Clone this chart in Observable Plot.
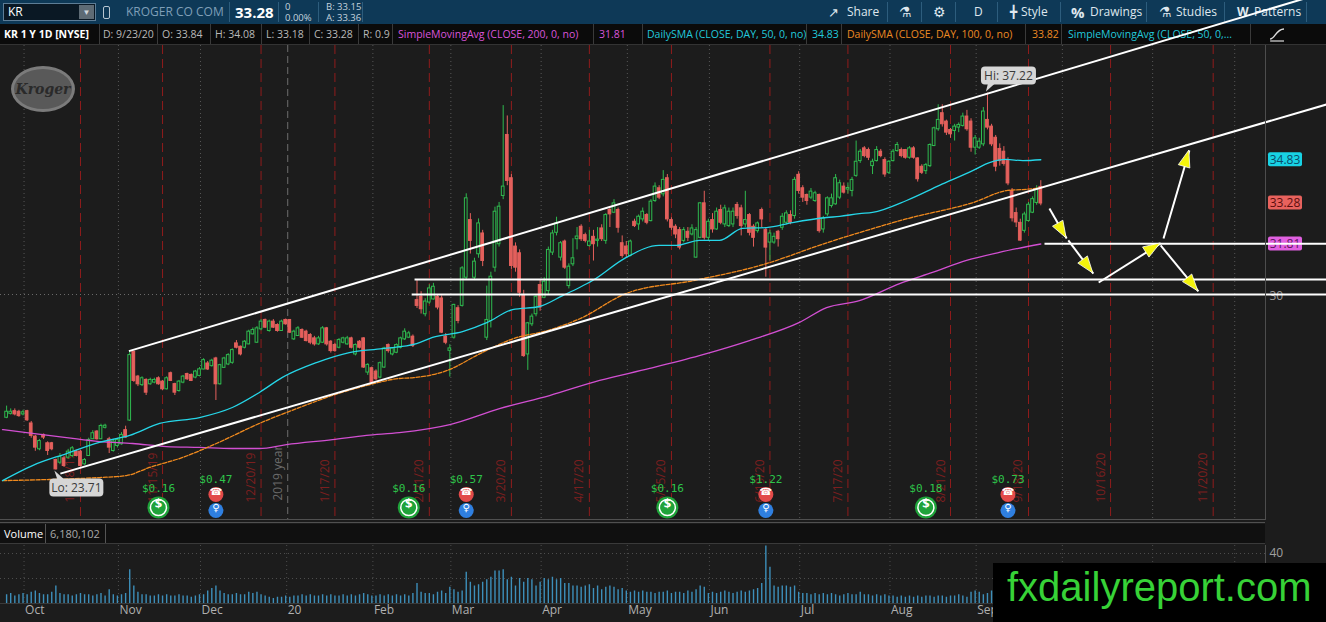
<!DOCTYPE html>
<html>
<head>
<meta charset="utf-8">
<script src="https://cdn.jsdelivr.net/npm/d3@7"></script>
<script src="https://cdn.jsdelivr.net/npm/@observablehq/plot@0.6"></script>
<style>
  html, body { margin:0; padding:0; background:#1c1c1c; overflow:hidden; }
  #page { position:relative; width:1326px; height:622px; overflow:hidden; font-family:"Open Sans","Noto Sans",sans-serif; background:#1c1c1c; }
  .a { position:absolute; white-space:nowrap; }
  #toolbar { left:0; top:0; width:1326px; height:24px; background:#0e3957; }
  .tb { position:absolute; top:0; height:24px; line-height:24px; font-size:12px; color:#dfe7ee; white-space:nowrap; }
  .tsep { position:absolute; top:2px; width:1px; height:20px; background:#2d5d7d; }
  #studybar { left:0; top:24px; width:1326px; height:21px; background:#0b0b0b; border-bottom:1px solid #333; box-sizing:border-box; }
  .sb { position:absolute; top:0; height:20px; line-height:20px; font-size:10.5px; color:#b9b9b9; white-space:nowrap; }
  .ssep { position:absolute; top:0; width:1px; height:20px; background:#3a3a3a; }
  #main { left:0; top:45px; z-index:2; }
  #logo { left:11px; top:66px; width:58px; height:40px; border-radius:50%; background:#595959; border:3px solid #7b7b7b; z-index:3;
          color:#2a2a2a; font-weight:700; font-style:italic; font-size:14px; line-height:40px; text-align:center; font-family:"DejaVu Serif",serif; }
  #sep1 { left:0; top:519px; width:1265px; height:4px; border-top:1px solid #505050; border-bottom:1px solid #505050; box-sizing:border-box; z-index:3; }
  #volhdr { left:0; top:524px; width:1265px; height:20px; background:#101010; border-bottom:1px solid #3a3a3a; box-sizing:border-box; z-index:3; }
  #vol { left:0; top:545px; z-index:2; }
  #wmbox { left:993px; top:563px; width:333px; height:59px; background:#000; z-index:5; }
  #wmtxt { left:1007px; top:564px; font-family:"Liberation Sans",Arial,sans-serif; font-size:40px; line-height:46px; color:#37d237; z-index:6; }
</style>
</head>
<body>
<div id="page">
  <div id="toolbar" class="a">
    <div class="a" style="left:3px;top:3px;width:93px;height:18px;background:#0a1824;border:1px solid #5d7d96;box-sizing:border-box;"></div>
    <div class="tb" style="left:8px;color:#fff;">KR</div>
    <div class="a" style="left:79px;top:5px;width:15px;height:14px;background:#5e6b75;color:#cfd6dc;font-size:8px;line-height:14px;text-align:center;">&#9660;</div>
    <div class="a" style="left:103px;top:6px;width:5px;height:11px;border:1px solid #b8c6d1;border-radius:2px;"></div>
    <div class="tb" style="left:126px;color:#7f9fb7;">KROGER CO COM</div>
    <div class="tsep" style="left:229px"></div>
    <div class="tb" style="left:235px;font-size:15px;font-weight:700;color:#fff;">33.28</div>
    <div class="tsep" style="left:278px"></div>
    <div class="a" style="left:285px;top:1px;font-size:9.5px;line-height:11px;color:#c5d3de;">0<br>0.00%</div>
    <div class="tsep" style="left:318px"></div>
    <div class="a" style="left:326px;top:1px;font-size:9.5px;line-height:11px;color:#c5d3de;">B: 33.15<br>A: 33.36</div>
    <div class="tsep" style="left:362px"></div>
    <div class="tb" style="left:828px;font-size:13px;">&#8599;</div>
    <div class="tb" style="left:847px;">Share</div>
    <div class="tsep" style="left:887px"></div>
    <div class="tb" style="left:899px;font-size:14px;">&#9879;</div>
    <div class="tsep" style="left:921px"></div>
    <div class="tb" style="left:933px;font-size:14px;">&#9881;</div>
    <div class="tsep" style="left:955px"></div>
    <div class="tb" style="left:974px;">D</div>
    <div class="tsep" style="left:997px"></div>
    <div class="tb" style="left:1010px;font-size:12px;">&#9547;</div>
    <div class="tb" style="left:1021px;">Style</div>
    <div class="tsep" style="left:1060px"></div>
    <div class="tb" style="left:1071px;font-size:15px;font-weight:700;">%</div>
    <div class="tb" style="left:1090px;">Drawings</div>
    <div class="tsep" style="left:1146px"></div>
    <div class="tb" style="left:1159px;font-size:14px;">&#9879;</div>
    <div class="tb" style="left:1176px;">Studies</div>
    <div class="tsep" style="left:1224px"></div>
    <div class="tb" style="left:1237px;font-size:12px;font-weight:700;">W</div>
    <div class="tb" style="left:1254px;">Patterns</div>
    <div class="tsep" style="left:1306px"></div>
  </div>
  <div id="studybar" class="a">
    <div class="sb" style="left:4px;color:#fff;font-weight:700;">KR 1 Y 1D [NYSE]</div>
    <div class="ssep" style="left:99px"></div>
    <div class="sb" style="left:103px;">D: 9/23/20</div>
    <div class="ssep" style="left:157px"></div>
    <div class="sb" style="left:162px;">O: 33.84</div>
    <div class="ssep" style="left:210px"></div>
    <div class="sb" style="left:215px;">H: 34.08</div>
    <div class="ssep" style="left:261px"></div>
    <div class="sb" style="left:266px;">L: 33.18</div>
    <div class="ssep" style="left:309px"></div>
    <div class="sb" style="left:314px;">C: 33.28</div>
    <div class="ssep" style="left:358px"></div>
    <div class="sb" style="left:363px;">R: 0.9</div>
    <div class="ssep" style="left:392px"></div>
    <div class="sb" style="left:398px;color:#d955d9;">SimpleMovingAvg (CLOSE, 200, 0, no)</div>
    <div class="ssep" style="left:593px"></div>
    <div class="sb" style="left:599px;color:#d955d9;">31.81</div>
    <div class="ssep" style="left:642px"></div>
    <div class="sb" style="left:647px;color:#22c9dc;">DailySMA (CLOSE, DAY, 50, 0, no)</div>
    <div class="ssep" style="left:806px"></div>
    <div class="sb" style="left:812px;color:#22c9dc;">34.83</div>
    <div class="ssep" style="left:841px"></div>
    <div class="sb" style="left:847px;color:#ec8a24;">DailySMA (CLOSE, DAY, 100, 0, no)</div>
    <div class="ssep" style="left:1025px"></div>
    <div class="sb" style="left:1032px;color:#ec8a24;">33.82</div>
    <div class="ssep" style="left:1061px"></div>
    <div class="sb" style="left:1068px;color:#22c9dc;">SimpleMovingAvg (CLOSE, 50, 0,...</div>
    <div class="ssep" style="left:1250px"></div>
    <svg class="a" style="left:1268px;top:3px" width="18" height="15"><path d="M2,12 C7,12 8,2 16,2" fill="none" stroke="#ddd" stroke-width="1.4"/><path d="M2,14 H16" stroke="#ddd" stroke-width="1.2"/></svg>
  </div>
  <div id="main" class="a"></div>
  <div id="logo" class="a">Kroger</div>
  <div id="sep1" class="a"></div>
  <div id="volhdr" class="a">
    <div class="a" style="left:0;top:0;width:46px;height:19px;border-right:1px solid #555;box-sizing:border-box;color:#fff;font-size:11px;line-height:19px;padding-left:4px;">Volume</div>
    <div class="a" style="left:46px;top:0;width:60px;height:19px;border-right:1px solid #555;box-sizing:border-box;color:#a9a9a9;font-size:11px;line-height:19px;padding-left:4px;">6,180,102</div>
  </div>
  <div id="vol" class="a"></div>
  <div id="wmbox" class="a"></div>
  <div id="wmtxt" class="a">fxdailyreport.com</div>
</div>
<script>
// ===================== DATA =====================
const holidays = ["2019-11-28","2019-12-25","2020-01-01","2020-01-20","2020-02-17","2020-04-10","2020-05-25","2020-07-03","2020-09-07","2020-11-26"];
const firstCandle = "2019-09-24";

const opens = [
25.60,25.74,25.80,25.78,25.72,25.80,25.36,24.89,24.47,24.95,
24.65,24.65,24.05,23.99,24.11,24.17,24.23,24.35,24.35,23.93,
24.23,24.83,25.07,24.83,25.24,24.79,24.41,24.59,24.65,25.12,
25.50,27.93,27.04,26.77,26.92,26.80,26.86,26.98,26.86,26.62,
27.16,26.77,26.56,26.86,27.13,27.10,27.04,27.10,27.33,27.51,
27.45,27.69,26.80,27.39,27.51,27.57,28.23,28.11,28.11,28.23,
28.59,28.29,28.77,29.07,28.71,29.01,28.89,28.71,29.07,29.07,
28.41,28.53,28.71,28.65,28.53,28.41,28.23,28.29,28.77,28.29,
28.17,28.11,28.29,28.23,28.41,27.87,28.29,28.41,27.22,27.34,
27.22,27.04,27.40,28.17,27.87,27.93,28.11,28.41,28.47,28.47,
29.78,29.90,29.31,29.73,29.84,29.90,29.84,28.47,28.00,28.47,
29.49,29.61,30.62,32.65,30.62,31.46,32.17,28.47,29.07,30.98,
31.82,33.55,35.70,34.15,31.70,31.46,29.96,27.87,28.95,29.31,
30.32,29.90,30.14,31.52,32.23,31.34,31.88,30.32,31.10,32.00,
32.41,32.11,31.76,32.05,31.94,32.35,31.94,33.01,32.95,33.01,
31.82,31.70,31.40,32.59,32.53,32.71,32.83,32.65,33.37,33.79,
33.61,34.15,32.65,32.41,32.29,31.94,32.23,32.17,31.34,32.05,
33.25,32.05,32.65,32.35,33.01,32.53,32.47,32.53,33.19,33.07,
32.53,32.83,32.41,32.29,33.01,32.29,31.88,31.88,32.23,32.41,
32.59,32.83,32.83,34.27,33.79,33.55,33.49,33.37,33.55,32.35,
32.89,33.19,33.25,33.49,33.85,33.78,33.73,34.27,34.80,35.22,
35.16,34.62,34.80,35.10,34.80,34.38,34.80,35.16,35.16,35.16,
34.92,35.22,34.86,34.56,34.44,34.62,35.34,35.94,36.48,36.18,
35.88,35.88,36.00,36.06,36.36,36.18,35.28,35.28,35.40,36.24,
36.00,35.60,35.20,35.10,34.80,33.70,32.90,32.55,32.30,32.65,
32.95,33.30,33.84];
const highs = [
26.00,25.90,25.90,25.85,25.85,25.85,25.45,24.95,24.80,25.00,
24.72,24.70,24.10,24.30,24.20,24.45,24.55,24.42,24.42,24.12,
24.85,25.12,25.12,25.35,25.35,24.88,24.80,24.85,25.05,25.28,
27.97,27.97,27.10,27.05,26.98,27.00,27.00,27.05,26.92,27.05,
27.22,26.82,26.92,27.10,27.18,27.15,27.28,27.38,27.70,27.60,
27.68,27.75,27.50,27.75,27.88,28.05,28.35,28.15,28.35,28.72,
28.80,28.85,29.10,29.12,29.08,29.10,28.95,29.08,29.12,29.10,
28.72,28.85,28.77,28.72,28.60,28.50,28.50,28.85,28.82,28.35,
28.25,28.42,28.47,28.50,28.47,28.23,28.35,28.45,27.52,27.40,
27.30,27.58,28.11,28.23,28.10,28.23,28.47,28.77,28.68,28.55,
30.50,30.10,29.85,30.35,30.40,30.00,29.95,28.60,28.20,29.65,
29.60,31.00,33.61,32.90,31.30,32.71,32.30,30.30,30.80,33.13,
33.30,36.77,36.40,34.30,31.85,31.60,30.15,29.00,29.30,30.00,
30.50,30.60,31.70,32.30,32.77,31.90,31.95,31.10,32.00,32.40,
32.50,32.20,32.30,32.30,32.40,32.50,32.90,33.10,33.40,33.10,
32.10,31.90,31.95,32.70,32.85,33.10,32.90,33.40,34.00,33.90,
34.44,34.30,32.75,32.50,32.40,32.40,32.40,32.50,32.40,33.30,
33.70,32.70,32.90,33.10,33.20,33.20,33.10,33.10,33.30,33.20,
33.70,32.90,32.50,32.60,33.10,32.40,32.30,32.20,32.30,32.90,
33.00,33.00,34.20,34.40,33.90,33.60,33.80,33.70,33.60,32.80,
33.50,33.60,34.30,34.10,34.00,34.00,34.20,35.50,35.20,35.30,
35.25,34.85,35.30,35.20,34.90,34.80,35.20,35.45,35.25,35.20,
35.30,35.30,34.90,34.65,34.70,35.40,36.00,36.80,36.80,36.25,
35.95,36.10,36.15,36.50,36.60,36.30,35.70,35.60,36.70,37.22,
36.10,35.70,35.40,35.30,34.90,33.80,33.10,32.70,32.95,33.30,
33.50,33.90,34.08];
const lows = [
25.55,25.68,25.65,25.60,25.65,25.45,24.85,24.38,24.40,24.80,
24.23,24.40,23.71,23.90,23.80,24.10,24.15,24.18,23.82,23.88,
24.20,24.80,24.78,24.80,25.18,24.30,24.35,24.50,24.60,24.85,
25.45,26.85,26.70,26.70,26.38,26.75,26.80,26.75,26.55,26.58,
26.88,26.38,26.50,26.80,26.92,26.88,26.98,27.05,27.30,27.28,
27.40,26.20,26.75,27.35,27.45,27.50,28.05,27.80,28.05,28.20,
28.55,28.25,28.70,28.78,28.65,28.78,28.65,28.68,28.90,28.60,
28.35,28.50,28.42,28.30,28.20,28.15,28.18,28.25,28.15,27.90,
27.93,28.05,28.23,28.18,28.05,27.80,28.05,27.35,27.10,26.80,
26.92,26.98,27.35,27.90,27.80,27.88,28.05,28.35,28.42,28.10,
29.50,29.30,29.20,29.65,29.80,29.45,28.60,28.20,27.04,28.40,
28.95,29.55,30.50,31.45,30.50,31.30,31.00,28.35,28.80,30.80,
31.70,33.40,33.90,30.90,30.80,29.90,27.75,27.28,28.85,29.20,
29.40,29.85,30.00,31.40,32.10,31.20,30.90,30.20,31.00,31.60,
31.90,31.85,31.70,31.20,31.70,31.90,31.80,32.40,32.90,32.20,
31.30,31.30,31.35,32.40,32.30,32.60,32.50,32.60,33.30,33.40,
33.50,32.60,32.30,32.00,31.60,31.85,31.90,32.10,31.30,32.00,
31.95,31.90,32.20,32.30,32.50,32.40,32.40,32.40,32.70,32.10,
32.40,32.10,31.70,32.20,32.40,30.62,31.20,31.80,31.70,32.30,
32.50,32.50,32.70,33.60,33.30,33.20,33.40,33.30,32.20,32.20,
32.80,33.10,33.20,33.40,33.60,33.60,33.50,34.20,34.70,34.90,
34.80,34.30,34.75,34.90,34.20,34.30,34.75,35.10,34.90,34.85,
34.85,34.85,34.03,34.30,34.30,34.55,35.30,35.85,36.00,35.70,
35.60,35.50,35.80,36.00,35.85,35.10,35.00,35.20,35.30,35.90,
35.30,34.40,34.60,34.60,33.90,32.60,32.40,31.90,32.20,32.60,
32.90,33.20,33.18];
const closes = [
25.78,25.78,25.72,25.66,25.76,25.51,24.95,24.53,24.73,24.89,
24.41,24.47,23.75,24.17,23.87,24.35,24.47,24.23,23.87,24.05,
24.77,25.01,24.83,25.27,25.28,24.53,24.71,24.77,24.95,24.89,
27.81,26.92,26.80,26.98,26.50,26.92,26.92,26.80,26.62,26.98,
26.92,26.50,26.86,27.04,26.98,26.92,27.22,27.30,27.63,27.33,
27.61,26.80,27.45,27.69,27.81,27.99,28.11,27.87,28.29,28.65,
28.71,28.77,29.01,28.83,29.01,28.83,28.71,29.01,28.95,28.65,
28.65,28.77,28.47,28.35,28.29,28.23,28.41,28.77,28.23,27.99,
27.99,28.35,28.41,28.41,28.11,28.17,28.11,27.40,27.46,26.86,
26.98,27.52,28.05,27.99,28.05,28.17,28.41,28.65,28.59,28.17,
29.61,29.49,29.73,30.20,30.26,29.55,28.65,28.29,28.05,29.61,
29.07,30.92,33.43,31.94,31.16,32.53,31.22,29.07,30.62,32.95,
33.13,33.85,34.09,31.04,30.98,30.08,27.81,28.95,29.19,29.90,
29.55,30.44,31.58,32.17,32.53,31.82,30.98,30.98,31.28,32.06,
32.00,31.94,31.88,31.82,31.95,32.00,32.83,32.89,33.25,32.41,
31.40,31.46,31.88,32.47,32.77,32.95,32.59,33.31,33.85,33.49,
34.09,32.71,32.41,32.17,31.70,32.29,32.05,32.35,32.29,33.25,
32.05,32.59,32.35,32.95,32.59,33.07,32.95,32.95,32.83,32.47,
32.65,32.23,32.05,32.53,32.71,31.70,32.17,32.05,32.00,32.77,
32.89,32.59,34.09,33.73,33.49,33.37,33.67,33.61,32.29,32.71,
33.43,33.43,34.15,33.97,33.67,33.80,34.09,34.74,35.10,34.98,
34.92,34.74,35.16,34.98,34.32,34.74,35.10,35.34,34.98,34.92,
35.22,34.92,34.15,34.38,34.62,35.34,35.94,36.24,36.12,35.82,
35.76,36.00,36.06,36.36,35.94,35.28,35.58,35.46,36.54,36.00,
35.40,34.60,34.80,34.70,34.00,32.75,32.60,31.95,32.85,33.20,
33.40,33.75,33.28];
// volume in millions of shares
const volumes = [
7,8,6,7,8,7,9,10,8,7,
7,9,14,8,7,7,6,7,8,7,
7,6,7,8,6,11,7,6,7,8,
27,14,9,7,7,6,6,7,6,7,
6,6,7,6,6,5,6,7,7,10,
12,14,10,8,7,7,8,7,7,9,
8,9,7,6,5,4,5,5,6,5,
6,6,7,6,7,6,6,7,6,7,
6,6,7,6,7,6,7,8,7,6,
6,7,6,7,6,7,6,7,6,8,
16,9,8,8,7,9,10,8,13,11,
9,10,25,17,14,15,17,19,21,26,
26,27,19,21,14,20,17,20,19,14,
17,20,19,21,19,20,16,16,14,14,
13,14,15,12,14,11,13,14,13,11,
12,10,9,10,9,10,9,9,8,9,
9,10,8,9,9,8,10,9,11,14,
13,8,9,8,9,10,9,8,9,10,
9,10,11,12,16,46,29,14,13,14,
14,13,14,9,8,8,7,8,7,8,
7,8,7,6,7,8,7,7,9,7,
7,6,7,6,7,6,6,5,6,5,
6,5,6,5,6,6,5,6,6,5,
6,6,7,6,5,9,10,9,7,8,
10,9,11,10,12,10,9,8,7,8,
9,7,6.18];

// moving averages (bar number counted from 2019-09-23)
const sma50Bar = [0,7.3,15.6,23.6,31,38.3,48,56,62.6,68.2,76.5,84.5,92.6,100.9,104.8,112.1,118,124.3,130.8,136.5,140.6,143.8,152,160,164.2,169.8,174.7,180.3,186.2,192.5,200.8,204,208.8,212,220.3,228.3,236.4,240.5,244.6,248.6,253];
const sma50Val = [23.33,23.87,24.30,24.70,24.95,25.38,25.59,25.95,26.49,27.03,27.56,27.92,28.06,28.24,28.46,28.67,28.99,29.46,29.57,29.96,30.25,30.50,31.33,31.76,31.76,31.94,31.94,32.37,32.40,32.58,32.76,32.80,32.90,32.94,33.37,33.91,34.44,34.73,34.84,34.80,34.83];
const sma100Bar = [0,11.5,23.6,30.2,35.8,43.9,52.1,62.6,72.4,80.4,88.7,96.7,100.2,108.4,116.5,124.5,132.8,140.8,152,168.4,184.6,201,208.8,220.5,236.6,244.9,248.5,253];
const sma100Val = [23.33,23.37,23.44,23.51,23.80,24.16,24.66,25.38,25.95,26.38,26.74,26.99,27.02,27.28,27.89,28.42,28.71,29.14,30.04,30.50,31.04,31.86,32.22,32.72,33.30,33.73,33.76,33.82];
const sma200Bar = [0,7.3,15.6,23.6,31.7,40,48,56,62.6,69.2,80.4,88.7,96.7,109,121.1,133.3,145.5,157.7,169.8,182,194.2,200.8,208.8,218.6,226.6,234.9,242.9,253];
const sma200Val = [25.16,25.02,24.87,24.73,24.66,24.55,24.52,24.48,24.48,24.62,24.80,24.95,25.05,25.34,25.91,26.38,26.92,27.35,27.81,28.35,29.00,29.53,29.78,30.39,30.79,31.22,31.51,31.81];

// option expirations (red dashed lines)
const expiryDates = ["2019-10-18","2019-11-15","2019-12-20","2020-01-17","2020-02-21","2020-03-20","2020-04-17","2020-05-15","2020-06-19","2020-07-17","2020-08-21","2020-09-18","2020-10-16","2020-11-20"];
const expiryLabels = ["10/18/19","11/15/19","12/20/19","1/17/20","2/21/20","3/20/20","4/17/20","5/15/20","6/19/20","7/17/20","8/21/20","9/18/20","10/16/20","11/20/20"];
// month axis (gridlines for all, labels where the reference shows them)
const monthKeys = ["2019-10","2019-11","2019-12","2020-01","2020-02","2020-03","2020-04","2020-05","2020-06","2020-07","2020-08","2020-09","2020-10","2020-11","2020-12"];
const monthNames = ["Oct","Nov","Dec","20","Feb","Mar","Apr","May","Jun","Jul","Aug","Sep","","",""];
// corporate events
const divDates = ["2019-11-14","2020-02-13","2020-05-14","2020-08-13"];
const divAmounts = ["$0.16","$0.16","$0.16","$0.18"];
const earnDates = ["2019-12-05","2020-03-05","2020-06-18","2020-09-11"];
const earnAmounts = ["$0.47","$0.57","$1.22","$0.73"];
// drawings (bar number, price)
const trendBar1 = [30.8, 14.1], trendPrice1 = [27.97, 23.58];
const trendBar2 = [317.3, 322.6], trendPrice2 = [40.61, 36.81];
const levelFromBar = [100.4, 99.7, 253.9], levelPrice = [30.54, 30.00, 31.82], levelToBar = 322.6;
const arrowBar1 = [255.1, 259.7, 267.1, 282.9, 282.2], arrowPrice1 = [33.08, 31.94, 30.43, 32.01, 31.76];
const arrowBar2 = [259.3, 265.8, 282.2, 289.2, 291.4], arrowPrice2 = [32.01, 30.75, 31.83, 35.16, 30.11];
// last values on the price axis
const tagValues = [34.83, 31.81, 33.28];
const tagFills = ["#18d2e4", "#e060e0", "#e8625d"];
const tagInks = ["#0b4b68", "#5e155e", "#5a0e0e"];

// ===================== SETUP =====================
const FONT = "Open Sans, Noto Sans, sans-serif";
const UP = "#2fba4f", DOWN = "#e4605c", FLAT = "#b0b0b0", BG = "#1c1c1c";
const W = 1326, FRAME_R = 1265;
const xDomain = [-0.487, 307.75];

const tradingDays = [];
for (let t = Date.UTC(2019, 8, 23); t <= Date.UTC(2020, 11, 31); t += 864e5) {
  const d = new Date(t), wd = d.getUTCDay(), s = d.toISOString().slice(0, 10);
  if (wd === 0 || wd === 6 || holidays.includes(s)) continue;
  tradingDays.push(s);
}
const bar = s => tradingDays.indexOf(s);
const k0 = bar(firstCandle);
const candles = opens.map((o, i) => ({k: k0 + i, open: o, high: highs[i], low: lows[i], close: closes[i], vol: volumes[i]}));
const col = d => d.close > d.open ? UP : d.close < d.open ? DOWN : FLAT;

const monthStarts = [];
tradingDays.forEach((s, k) => {
  if (k > 0 && s.slice(0, 7) !== tradingDays[k - 1].slice(0, 7)) {
    const j = monthKeys.indexOf(s.slice(0, 7));
    if (j >= 0) monthStarts.push({k, key: monthKeys[j], name: monthNames[j]});
  }
});
const monthLines = monthStarts.filter(d => d.key !== "2020-01");
const monthLabelled = monthStarts.filter(d => d.name !== "");
const yearK = bar("2020-01-02") - 0.5;
const expiries = expiryDates.map((s, j) => ({k: bar(s), label: expiryLabels[j]}));
const divs = divDates.map((s, j) => ({k: bar(s), amt: divAmounts[j]}));
const earns = earnDates.map((s, j) => ({k: bar(s), amt: earnAmounts[j]}));

function arrowHeads(index, scales) {
  const g = d3.create("svg:g");
  for (let j = 0; j < arrowBar1.length; j++) {
    const x1 = scales.x(arrowBar1[j]), y1 = scales.y(arrowPrice1[j]);
    const x2 = scales.x(arrowBar2[j]), y2 = scales.y(arrowPrice2[j]);
    const a = Math.atan2(y2 - y1, x2 - x1), L = 17, H = 6;
    const bx = x2 - L * Math.cos(a), by = y2 - L * Math.sin(a);
    const px = -Math.sin(a) * H, py = Math.cos(a) * H;
    g.append("path")
      .attr("d", `M${x2},${y2}L${bx + px},${by + py}L${bx - px},${by - py}Z`)
      .attr("fill", "#f4f40c").attr("stroke", "#ffffff").attr("stroke-width", 0.8);
  }
  return g.node();
}

function priceTags(index, scales, values, dims) {
  const g = d3.create("svg:g").attr("font-family", FONT).attr("font-size", 12);
  const x0 = dims.width - dims.marginRight + 3;
  tagValues.forEach((v, j) => {
    const cy = scales.y(v);
    g.append("rect").attr("x", x0).attr("y", cy - 7).attr("width", 34).attr("height", 14).attr("rx", 2).attr("fill", tagFills[j]);
    g.append("text").attr("x", x0 + 17).attr("y", cy + 4.5).attr("text-anchor", "middle").attr("fill", tagInks[j]).text(v.toFixed(2));
  });
  return g.node();
}

function callouts(index, scales) {
  const g = d3.create("svg:g").attr("font-family", FONT).attr("font-size", 12);
  const hi = candles.reduce((a, b) => b.high > a.high ? b : a);
  const lo = candles.reduce((a, b) => b.low < a.low ? b : a);
  const hx = scales.x(hi.k), hy = scales.y(hi.high);
  g.append("path").attr("d", `M${hx - 1},${hy - 1}L${hx + 1},${hy - 9}L${hx + 8},${hy - 9}Z`).attr("fill", "#d6d6d6");
  g.append("rect").attr("x", hx - 6).attr("y", hy - 26).attr("width", 55).attr("height", 18).attr("rx", 4).attr("fill", "#d6d6d6");
  g.append("text").attr("x", hx + 21.5).attr("y", hy - 12.5).attr("text-anchor", "middle").attr("fill", "#3a3a3a").text(`Hi: ${hi.high.toFixed(2)}`);
  const lx = scales.x(lo.k), ly = scales.y(lo.low);
  g.append("path").attr("d", `M${lx - 1},${ly + 1}L${lx + 2},${ly + 10}L${lx + 9},${ly + 10}Z`).attr("fill", "#d6d6d6");
  g.append("rect").attr("x", lx - 6).attr("y", ly + 9).attr("width", 54).attr("height", 18).attr("rx", 4).attr("fill", "#d6d6d6");
  g.append("text").attr("x", lx + 21).attr("y", ly + 22.5).attr("text-anchor", "middle").attr("fill", "#3a3a3a").text(`Lo: ${lo.low.toFixed(2)}`);
  return g.node();
}

const mainPlot = Plot.plot({
  width: W, height: 475,
  marginTop: 0, marginBottom: 0, marginLeft: 0, marginRight: W - FRAME_R,
  x: {domain: xDomain, axis: null},
  y: {domain: [21.90, 38.925], axis: null},
  color: {type: "identity"},
  style: `background:${BG};overflow:visible;font-family:${FONT};`,
  marks: [
    Plot.ruleY([30], {stroke: "#6a6a6a", strokeDasharray: "1,3"}),
    Plot.ruleX(monthLines, {x: d => d.k - 0.75, stroke: "#575757", strokeDasharray: "1,3"}),
    Plot.ruleX([yearK], {x: d => d, stroke: "#6e6e6e", strokeDasharray: "7,4"}),
    Plot.ruleX(expiries, {x: "k", stroke: "#901c1c", strokeDasharray: "9,5"}),
    Plot.text(expiries, {x: "k", text: "label", rotate: -90, frameAnchor: "bottom", dy: -18, dx: -6, textAnchor: "start", fill: "#7c1f1f", fontSize: 12, fontFamily: FONT}),
    Plot.text(["2019 year"], {x: () => yearK, text: d => d, rotate: -90, frameAnchor: "bottom", dy: -20, dx: -6, textAnchor: "start", fill: "#6a6a6a", fontSize: 12, fontFamily: FONT}),
    // candles
    Plot.ruleX(candles, {x: "k", y1: "low", y2: "high", stroke: col, strokeWidth: 1}),
    Plot.rect(candles, {x1: d => d.k - 0.33, x2: d => d.k + 0.33, y1: "open", y2: "close",
      fill: d => d.close > d.open ? BG : col(d), stroke: col, strokeWidth: 1, insetTop: -0.5, insetBottom: -0.5}),
    // moving averages
    Plot.line(sma200Bar, {x: d => d, y: (d, i) => sma200Val[i], stroke: "#d24fd2", strokeWidth: 1.3, curve: "monotone-x"}),
    Plot.line(sma100Bar, {x: d => d, y: (d, i) => sma100Val[i], stroke: "#f08a1e", strokeWidth: 1.3, strokeDasharray: "4,1.6", curve: "monotone-x"}),
    Plot.line(sma50Bar, {x: d => d, y: (d, i) => sma50Val[i], stroke: "#26d6e8", strokeWidth: 1.3, curve: "monotone-x"}),
    // axis text & tags
    Plot.text([30], {y: d => d, text: d => String(d), frameAnchor: "right", dx: 4, dy: 2, textAnchor: "start", fill: "#9a9a9a", fontSize: 12, fontFamily: FONT}),
    priceTags,
    // drawings
    Plot.link(trendBar1, {x1: d => d, y1: (d, i) => trendPrice1[i], x2: (d, i) => trendBar2[i], y2: (d, i) => trendPrice2[i], stroke: "#ffffff", strokeWidth: 2}),
    Plot.link(levelFromBar, {x1: d => d, y1: (d, i) => levelPrice[i], x2: () => levelToBar, y2: (d, i) => levelPrice[i], stroke: "#ffffff", strokeWidth: 2}),
    Plot.link(arrowBar1, {x1: d => d, y1: (d, i) => arrowPrice1[i], x2: (d, i) => arrowBar2[i], y2: (d, i) => arrowPrice2[i], stroke: "#ffffff", strokeWidth: 2}),
    arrowHeads,
    callouts,
    // events
    Plot.dot(divs, {x: "k", frameAnchor: "bottom", dy: -13, r: 11, fill: "#1fa33a"}),
    Plot.dot(divs, {x: "k", frameAnchor: "bottom", dy: -13, r: 8, fill: "none", stroke: "#ffffff", strokeWidth: 1.5}),
    Plot.text(divs, {x: "k", text: () => "$", frameAnchor: "bottom", dy: -13, fill: "#ffffff", fontSize: 13, fontWeight: "bold", fontFamily: FONT}),
    Plot.text(divs, {x: "k", text: "amt", frameAnchor: "bottom", dy: -29, fill: "#2ec44a", fontSize: 11, fontFamily: "DejaVu Sans Mono"}),
    Plot.dot(earns, {x: "k", frameAnchor: "bottom", dy: -26, r: 7.5, fill: "#e24a4a"}),
    Plot.text(earns, {x: "k", text: () => "\u260E", frameAnchor: "bottom", dy: -26, fill: "#ffffff", fontSize: 10, fontFamily: "DejaVu Sans"}),
    Plot.dot(earns, {x: "k", frameAnchor: "bottom", dy: -10, r: 7.5, fill: "#2f7fe0"}),
    Plot.text(earns, {x: "k", text: () => "\u2640", frameAnchor: "bottom", dy: -10, fill: "#ffffff", fontSize: 10, fontFamily: "DejaVu Sans"}),
    Plot.text(earns, {x: "k", text: "amt", frameAnchor: "bottom", dy: -38, fill: "#2ec44a", fontSize: 11, fontFamily: "DejaVu Sans Mono"}),
    Plot.ruleX([xDomain[1]], {x: d => d, stroke: "#4d4d4d"})
  ]
});
document.getElementById("main").append(mainPlot);

const volPlot = Plot.plot({
  width: W, height: 77,
  marginTop: 0, marginBottom: 19, marginLeft: 0, marginRight: W - FRAME_R,
  x: {domain: xDomain, axis: null},
  y: {domain: [0, 46.4], axis: null},
  color: {type: "identity"},
  style: `background:${BG};overflow:visible;font-family:${FONT};`,
  marks: [
    Plot.ruleY([20, 40], {y: d => d, stroke: "#4d4d4d", strokeDasharray: "1,3"}),
    Plot.ruleX(monthStarts, {x: d => d.k - 0.75, stroke: "#4d4d4d", strokeDasharray: "1,3"}),
    Plot.ruleX(candles, {x: "k", y1: 0, y2: "vol", stroke: "#3d8fba", strokeWidth: 1.4}),
    Plot.text(monthLabelled, {x: d => d.k - 0.75, text: "name", frameAnchor: "bottom", dy: 10, dx: 1, textAnchor: "start", fill: "#b0b0b0", fontSize: 12, fontFamily: FONT}),
    Plot.text([40], {y: d => d, text: d => String(d), frameAnchor: "right", dx: 4, textAnchor: "start", fill: "#a0a0a0", fontSize: 12, fontFamily: FONT}),
    Plot.ruleY([0], {y: d => d, stroke: "#3a3a3a"}),
    Plot.ruleX([xDomain[1]], {x: d => d, stroke: "#4d4d4d"})
  ]
});
document.getElementById("vol").append(volPlot);
</script>
</body>
</html>
